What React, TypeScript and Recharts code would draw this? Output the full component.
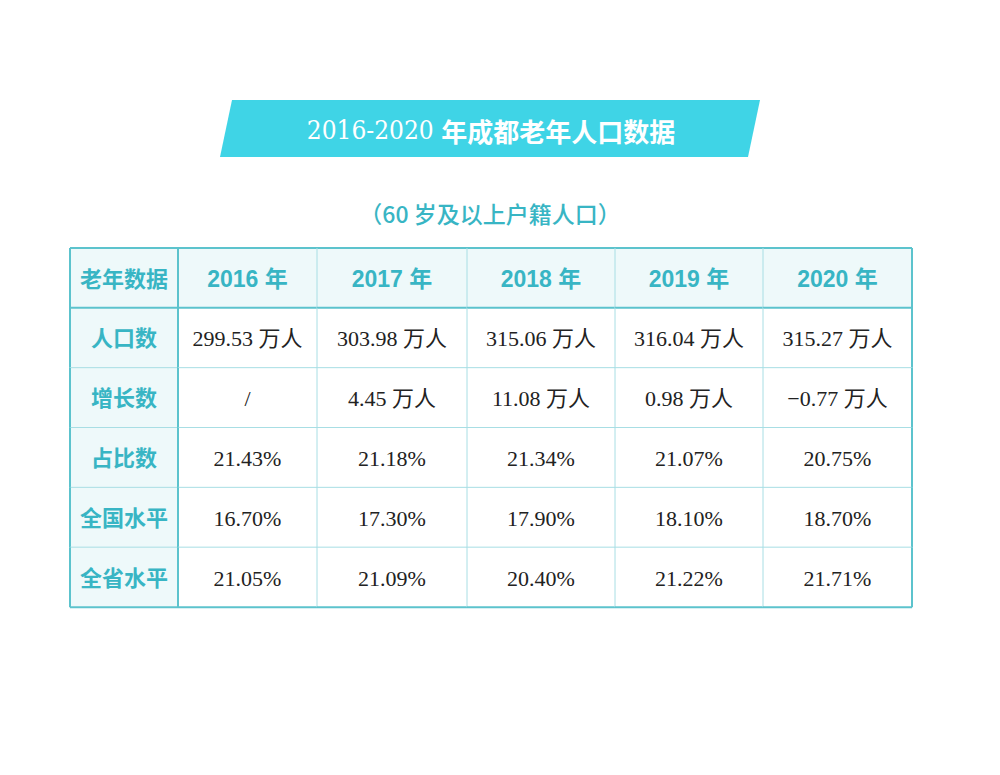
import { BarChart, Bar, XAxis, YAxis } from "recharts";

const years = ["2016 年", "2017 年", "2018 年", "2019 年", "2020 年"];
const rowLabels = ["人口数", "增长数", "占比数", "全国水平", "全省水平"];
const population = [299.53, 303.98, 315.06, 316.04, 315.27];
const growth = [null, 4.45, 11.08, 0.98, -0.77];
const share = [21.43, 21.18, 21.34, 21.07, 20.75];
const national = [16.7, 17.3, 17.9, 18.1, 18.7];
const provincial = [21.05, 21.09, 20.4, 21.22, 21.71];

const COL_WIDTHS = [108, 139, 150, 148, 148, 149];
const TABLE_W = COL_WIDTHS.reduce((a, b) => a + b, 0);

const CYAN = "#38b5c4";
const HEAD_BG = "#eef9fa";
const THIN = "#a8dee4";
const THICK = "#5cc3cd";

const fmtWan = (v: number | null) =>
  v === null ? "/" : `${v < 0 ? "−" : ""}${Math.abs(v).toFixed(2)} 万人`;
const fmtPct = (v: number) => `${v.toFixed(2)}%`;

const bodyRows = [
  population.map(fmtWan),
  growth.map(fmtWan),
  share.map(fmtPct),
  national.map(fmtPct),
  provincial.map(fmtPct),
];

const tableRows = [
  { row: "老年数据", labels: ["老年数据", ...years] },
  ...rowLabels.map((name, i) => ({ row: name, labels: [name, ...bodyRows[i]] })),
].map((r) => {
  const out: any = { ...r };
  COL_WIDTHS.forEach((w, i) => (out[`w${i}`] = w));
  return out;
});

const lastRow = tableRows.length - 1;
const lastCol = COL_WIDTHS.length - 1;

function TableCell(props: any) {
  const { x, y, width, height, payload, index, col } = props;
  const isHead = index === 0 || col === 0;
  const label = payload.labels[col];
  const line = (x1: number, y1: number, x2: number, y2: number, thick: boolean) => (
    <line
      x1={x1}
      y1={y1}
      x2={x2}
      y2={y2}
      stroke={thick ? THICK : THIN}
      strokeWidth={thick ? 2 : 1}
    />
  );
  const size = index === 0 && col > 0 ? 23 : isHead ? 22 : 22;
  return (
    <g>
      <rect x={x} y={y} width={width} height={height} fill={isHead ? HEAD_BG : "#ffffff"} />
      {line(x, y, x + width, y, index <= 1)}
      {line(x, y, x, y + height, col <= 1)}
      {index === lastRow && line(x, y + height, x + width, y + height, true)}
      {col === lastCol && line(x + width, y, x + width, y + height, true)}
      <text
        x={x + width / 2}
        y={y + height / 2 + 1}
        textAnchor="middle"
        dominantBaseline="central"
        fill={isHead ? CYAN : "#222222"}
        fontSize={size}
        fontWeight={isHead ? 700 : 400}
        fontFamily={
          isHead
            ? "Arial, 'Liberation Sans', 'Noto Sans CJK SC', sans-serif"
            : "'Liberation Serif', 'Noto Sans CJK SC', serif"
        }
      >
        {label}
      </text>
    </g>
  );
}

export default function App() {
  return (
    <div style={{ position: "absolute", left: 0, top: 0, width: 1000, height: 775, background: "#fff" }}>
      <svg width={1000} height={775} style={{ position: "absolute", left: 0, top: 0 }}>
        <polygon points="232,100 760,100 748,157 220,157" fill="#3fd4e6" />
        <text
          x={491}
          y={130}
          textAnchor="middle"
          dominantBaseline="central"
          fill="#ffffff"
          fontSize={26}
        >
          <tspan fontFamily="'DejaVu Serif Condensed', 'Liberation Serif', serif" fontWeight={400}>
            2016-2020{" "}
          </tspan>
          <tspan fontFamily="'Noto Sans CJK SC', sans-serif" fontWeight={700}>
            年成都老年人口数据
          </tspan>
        </text>
        <text
          x={490}
          y={213}
          textAnchor="middle"
          dominantBaseline="central"
          fill={CYAN}
          fontSize={23}
          fontWeight={500}
          fontFamily="'Noto Sans CJK SC', Arial, sans-serif"
        >
          （60 岁及以上户籍人口）
        </text>
      </svg>
      <div style={{ position: "absolute", left: 0, top: 0 }}>
        <BarChart
          width={1000}
          height={775}
          data={tableRows}
          layout="vertical"
          barCategoryGap={0}
          barGap={0}
          margin={{ top: 248, left: 70, right: 1000 - 70 - TABLE_W, bottom: 168 }}
        >
          <XAxis type="number" hide domain={[0, TABLE_W]} />
          <YAxis type="category" dataKey="row" hide />
          {COL_WIDTHS.map((_, i) => (
            <Bar
              key={i}
              dataKey={`w${i}`}
              stackId="t"
              isAnimationActive={false}
              shape={(p: any) => <TableCell {...p} col={i} />}
            />
          ))}
        </BarChart>
      </div>
    </div>
  );
}
